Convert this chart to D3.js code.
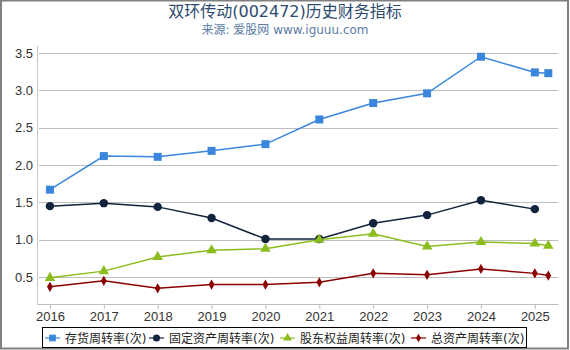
<!DOCTYPE html>
<html lang="zh">
<head>
  <meta charset="UTF-8">
  <title>双环传动(002472)历史财务指标</title>
  <script src="https://d3js.org/d3.v7.min.js"></script>
  <style>
    body {
      margin: 0;
      background: #fff;
      font-family: "DejaVu Sans", "Noto Sans CJK SC", sans-serif;
    }
    svg { display: block; }
    .grid line { stroke: #bdbdbd; stroke-width: 1; }
    .tick text { fill: #333; font-size: 13px; }
  </style>
</head>
<body>
  <div id="chart"></div>
  <script>
    // values
    const years = [2016, 2017, 2018, 2019, 2020, 2021, 2022, 2023, 2024, 2025, 2025.25];
    const inventoryTurnover = [1.67, 2.12, 2.11, 2.19, 2.28, 2.61, 2.83, 2.96, 3.45, 3.24, 3.23];
    const fixedAssetTurnover = [1.45, 1.49, 1.44, 1.29, 1.01, 1.01, 1.22, 1.33, 1.53, 1.41, null];
    const equityTurnover = [0.49, 0.58, 0.77, 0.86, 0.88, 1.00, 1.08, 0.91, 0.97, 0.95, 0.92];
    const totalAssetTurnover = [0.37, 0.45, 0.35, 0.40, 0.40, 0.43, 0.55, 0.53, 0.61, 0.55, 0.52];
    const xTicks = [2016, 2017, 2018, 2019, 2020, 2021, 2022, 2023, 2024, 2025];
    const yTicks = [0.5, 1.0, 1.5, 2.0, 2.5, 3.0, 3.5];

    const series = [
      { name: "存货周转率(次)", values: inventoryTurnover, color: "#3a86dc", symbol: d3.symbolSquare, size: 64 },
      { name: "固定资产周转率(次)", values: fixedAssetTurnover, color: "#12233d", symbol: d3.symbolCircle, size: 56 },
      { name: "股东权益周转率(次)", values: equityTurnover, color: "#8cbd1f", symbol: d3.symbolTriangle, size: 48 },
      { name: "总资产周转率(次)", values: totalAssetTurnover, color: "#8b0000", symbol: d3.symbolDiamond, size: 30 }
    ];

    const width = 570, height = 350;
    const margin = { top: 45, right: 12, bottom: 46, left: 37 };

    const svg = d3.select("#chart").append("svg")
      .attr("width", width)
      .attr("height", height);

    // outer frame
    svg.append("rect")
      .attr("x", 1).attr("y", 0.5)
      .attr("width", 567).attr("height", 348)
      .attr("fill", "none")
      .attr("stroke", "#808080")
      .attr("stroke-width", 2);

    svg.append("text")
      .attr("x", 285).attr("y", 17)
      .attr("text-anchor", "middle")
      .attr("fill", "#2c4a6e")
      .attr("font-size", 16)
      .text("双环传动(002472)历史财务指标");

    svg.append("text")
      .attr("x", 285).attr("y", 34)
      .attr("text-anchor", "middle")
      .attr("fill", "#5a7ba3")
      .attr("font-size", 12)
      .text("来源: 爱股网 www.iguuu.com");

    const x = d3.scaleLinear()
      .domain([2015.76, 2025.43])
      .range([margin.left, width - margin.right]);

    const y = d3.scaleLinear()
      .domain([0.14, 3.607])
      .range([height - margin.bottom, margin.top]);

    // grid
    svg.append("g")
      .attr("class", "grid")
      .selectAll("line")
      .data(yTicks)
      .join("line")
        .attr("x1", margin.left + 2)
        .attr("x2", width - margin.right)
        .attr("y1", d => Math.round(y(d)) + 0.5)
        .attr("y2", d => Math.round(y(d)) + 0.5);

    // y axis
    const yAxis = svg.append("g")
      .attr("transform", `translate(${margin.left},0)`)
      .call(d3.axisLeft(y).tickValues(yTicks).tickFormat(d3.format(".1f")).tickSize(0).tickPadding(4));
    yAxis.select(".domain").attr("stroke", "#c8c8c8");

    // x axis
    const xAxis = svg.append("g")
      .attr("transform", `translate(0,${height - margin.bottom})`)
      .call(d3.axisBottom(x).tickValues(xTicks).tickFormat(d3.format("d")).tickSizeInner(5).tickSizeOuter(0).tickPadding(3));
    xAxis.select(".domain").attr("stroke", "#bdbdbd");
    xAxis.selectAll(".tick line").attr("stroke", "#bdbdbd");

    const line = d3.line()
      .defined(d => d[1] != null)
      .x(d => x(d[0]))
      .y(d => y(d[1]));

    for (const s of series) {
      const pts = years.map((yr, i) => [yr, s.values[i]]);
      svg.append("path")
        .datum(pts)
        .attr("fill", "none")
        .attr("stroke", s.color)
        .attr("stroke-width", 1.5)
        .attr("d", line);
      svg.append("g")
        .selectAll("path")
        .data(pts.filter(d => d[1] != null))
        .join("path")
          .attr("transform", d => `translate(${x(d[0])},${y(d[1])})`)
          .attr("fill", s.color)
          .attr("d", d3.symbol(s.symbol, s.size));
    }

    // legend
    const legend = svg.append("g");
    legend.append("rect")
      .attr("x", 42.5).attr("y", 327.5)
      .attr("width", 484).attr("height", 20)
      .attr("fill", "#fff")
      .attr("stroke", "#000")
      .attr("stroke-width", 1);

    const legendX = [45, 149, 280, 411];
    series.forEach((s, i) => {
      const g = legend.append("g").attr("transform", `translate(${legendX[i]},338)`);
      g.append("line")
        .attr("x1", 0).attr("x2", 15)
        .attr("stroke", s.color)
        .attr("stroke-width", 2)
        .attr("opacity", 0.6);
      g.append("path")
        .attr("transform", "translate(7.5,0)")
        .attr("fill", s.color)
        .attr("d", d3.symbol(s.symbol, s.size * 0.7));
      g.append("text")
        .attr("x", 20).attr("y", 4.5)
        .attr("fill", "#222")
        .attr("font-size", 12)
        .text(s.name);
    });
  </script>
</body>
</html>
